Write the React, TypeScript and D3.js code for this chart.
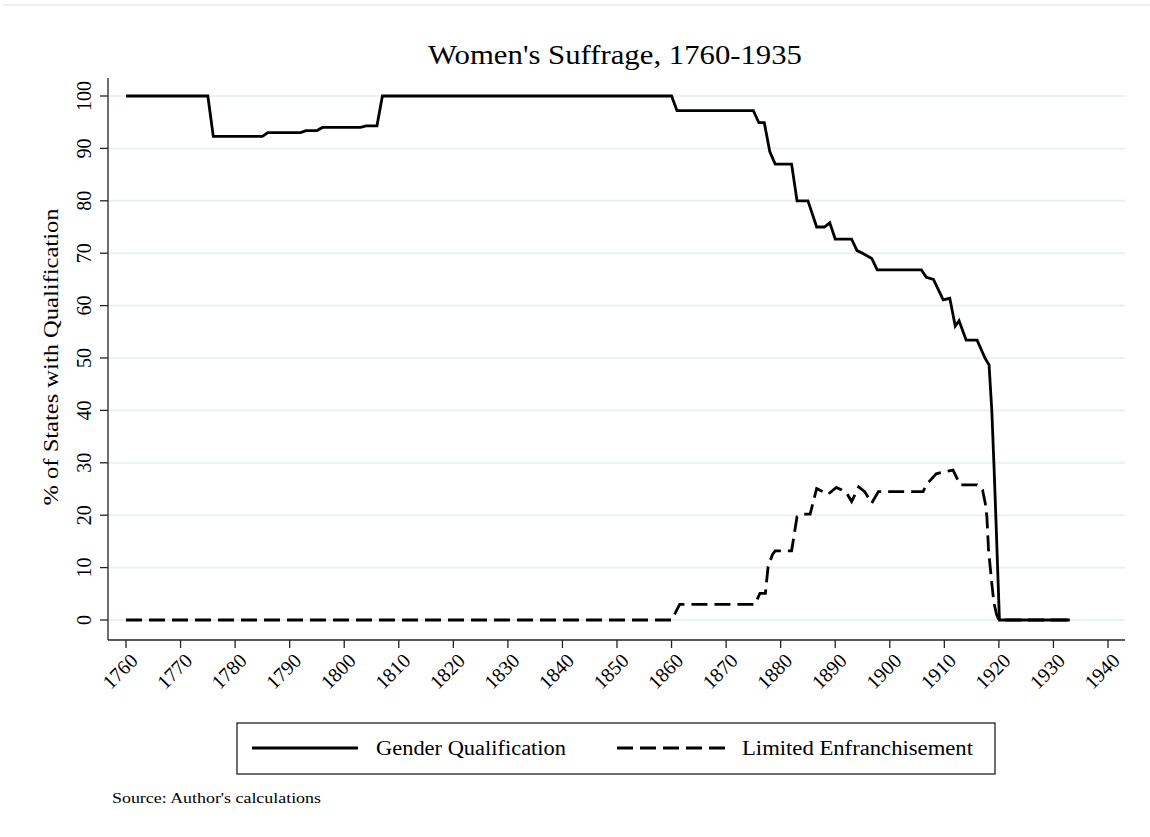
import * as d3 from 'd3';

// [year, % of states]
const genderQualification: [number, number][] = [
  [1760, 100], [1775, 100], [1776, 92.3], [1785, 92.3], [1786, 93.0],
  [1792, 93.0], [1793, 93.4], [1795, 93.4], [1796, 94.0], [1803, 94.0],
  [1804, 94.3], [1806, 94.3], [1807, 100], [1860, 100], [1861, 97.2],
  [1875, 97.2], [1876, 94.9], [1877, 94.9], [1878, 89.4], [1879, 87.0],
  [1882, 87.0], [1883, 80.0], [1885, 80.0], [1886.6, 75.0], [1888, 75.0],
  [1889, 75.8], [1890, 72.7], [1893, 72.7], [1894, 70.5], [1895, 70.0],
  [1896.7, 69.0], [1897.7, 66.8], [1905.8, 66.8], [1906.7, 65.4], [1908, 65.0],
  [1909.8, 61.1], [1911, 61.4], [1912, 56.1], [1912.7, 57.1], [1914, 53.4],
  [1916, 53.4], [1917.5, 49.9], [1918.2, 48.7], [1918.7, 40], [1919.1, 29.5],
  [1919.5, 18], [1919.8, 9], [1920.1, 0], [1933, 0],
];

const limitedEnfranchisement: [number, number][] = [
  [1760, 0], [1860, 0], [1861.5, 3.0], [1875.3, 3.0], [1876.2, 5.1],
  [1877.2, 5.1], [1877.7, 10.2], [1878.5, 12.5], [1879, 13.2], [1882, 13.2],
  [1883, 19.7], [1884, 20.2], [1885.4, 20.2], [1886.6, 25.1], [1888.7, 24.0],
  [1890.2, 25.3], [1891.2, 24.8], [1892.1, 24.2], [1893, 22.6], [1894.3, 25.4],
  [1895.4, 24.5], [1896.7, 22.3], [1897.9, 24.5], [1906.1, 24.5], [1906.7, 25.8],
  [1908.5, 27.9], [1910, 28.3], [1911.6, 28.6], [1912.9, 25.8], [1916, 25.8],
  [1917, 24.8], [1917.5, 22.3], [1917.8, 19.7], [1918.1, 13.4], [1918.7, 7.0],
  [1919.1, 3.2], [1919.6, 1.0], [1920, 0], [1933, 0],
];

const yearTicks = d3.range(1760, 1941, 10);
const pctTicks = d3.range(0, 101, 10);

const seriesNames = ['Gender Qualification', 'Limited Enfranchisement'];

const serif = '"Liberation Serif", "Times New Roman", serif';
const gridColor = '#eaf1f3';

export default function App() {
  const width = 1150;
  const height = 837;

  const x = d3.scaleLinear().domain([1760, 1940]).range([126, 1108]);
  const y = d3.scaleLinear().domain([0, 100]).range([620, 96]);

  const axisX = 108;
  const axisY = 640;

  const line = d3
    .line<[number, number]>()
    .x((d) => x(d[0]))
    .y((d) => y(d[1]));

  return (
    <div style={{ position: 'absolute', left: 0, top: 0, background: '#fff' }}>
      <svg width={width} height={height} style={{ display: 'block' }} fontFamily={serif}>
        <rect width={width} height={height} fill="#fff" />
        <line x1={3} x2={width} y1={5} y2={5} stroke="#e4ebee" strokeWidth={1.5} />

        {/* title */}
        <text x={615} y={64} textAnchor="middle" fontSize={27} textLength={374} lengthAdjust="spacingAndGlyphs">
          Women's Suffrage, 1760-1935
        </text>

        {/* gridlines */}
        {pctTicks.map((t) => (
          <line key={t} x1={axisX} x2={1125} y1={y(t)} y2={y(t)} stroke={gridColor} strokeWidth={2} />
        ))}

        {/* y axis */}
        <line x1={axisX} x2={axisX} y1={78} y2={axisY} stroke="#222" strokeWidth={1.3} />
        {pctTicks.map((t) => (
          <g key={t}>
            <line x1={axisX - 8} x2={axisX} y1={y(t)} y2={y(t)} stroke="#222" strokeWidth={1.3} />
            <text
              transform={`translate(${axisX - 24},${y(t)}) rotate(-90)`}
              textAnchor="middle"
              dominantBaseline="central"
              fontSize={20}
            >
              {t}
            </text>
          </g>
        ))}
        <text
          transform={`translate(51,357) rotate(-90)`}
          textAnchor="middle"
          dominantBaseline="central"
          fontSize={20}
          textLength={297}
          lengthAdjust="spacingAndGlyphs"
        >
          % of States with Qualification
        </text>

        {/* x axis */}
        <line x1={axisX} x2={1125} y1={axisY} y2={axisY} stroke="#222" strokeWidth={1.3} />
        {yearTicks.map((t) => (
          <g key={t}>
            <line x1={x(t)} x2={x(t)} y1={axisY} y2={axisY + 8} stroke="#222" strokeWidth={1.3} />
            <text
              transform={`translate(${x(t) + 8},${axisY + 17}) rotate(-45)`}
              textAnchor="end"
              dominantBaseline="central"
              fontSize={20}
            >
              {t}
            </text>
          </g>
        ))}

        {/* series */}
        <path
          d={line(limitedEnfranchisement) ?? ''}
          fill="none"
          stroke="#000"
          strokeWidth={2.8}
          strokeDasharray="16,7"
        />
        <path d={line(genderQualification) ?? ''} fill="none" stroke="#000" strokeWidth={2.8} />

        {/* legend */}
        <rect x={237} y={723} width={758} height={51} fill="#fff" stroke="#222" strokeWidth={1.3} />
        <line x1={252} x2={358} y1={748} y2={748} stroke="#000" strokeWidth={2.8} />
        <text x={376} y={748} dominantBaseline="central" fontSize={20} textLength={190} lengthAdjust="spacingAndGlyphs">
          {seriesNames[0]}
        </text>
        <line x1={617} x2={725} y1={748} y2={748} stroke="#000" strokeWidth={2.8} strokeDasharray="16,7" />
        <text x={742} y={748} dominantBaseline="central" fontSize={20} textLength={231} lengthAdjust="spacingAndGlyphs">
          {seriesNames[1]}
        </text>

        <text x={112} y={798} dominantBaseline="central" fontSize={14} textLength={209} lengthAdjust="spacingAndGlyphs">
          Source: Author's calculations
        </text>
      </svg>
    </div>
  );
}
